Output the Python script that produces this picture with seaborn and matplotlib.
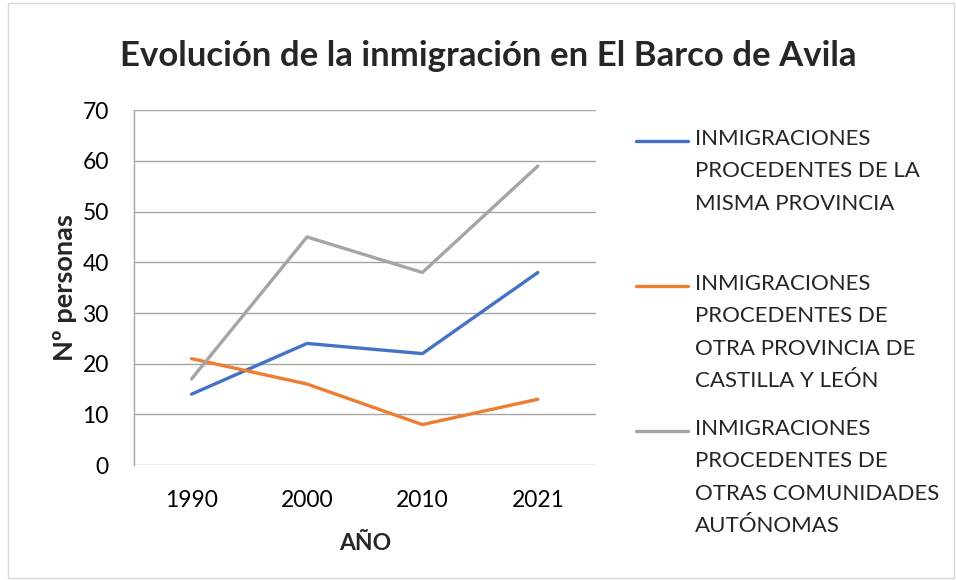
import pandas as pd
import matplotlib
matplotlib.use("Agg")
import matplotlib.pyplot as plt
from matplotlib.lines import Line2D
from matplotlib.patches import Rectangle
import seaborn as sns

# datos
years = ["1990", "2000", "2010", "2021"]
misma_provincia = [14, 24, 22, 38]
otra_provincia_cyl = [21, 16, 8, 13]
otras_comunidades = [17, 45, 38, 59]

series_names = [
    "INMIGRACIONES\nPROCEDENTES DE LA\nMISMA PROVINCIA",
    "INMIGRACIONES\nPROCEDENTES DE\nOTRA PROVINCIA DE\nCASTILLA Y LEÓN",
    "INMIGRACIONES\nPROCEDENTES DE\nOTRAS COMUNIDADES\nAUTÓNOMAS",
]
colors = ["#4472C4", "#ED7D31", "#A5A5A5"]

df = pd.DataFrame({
    "year": years * 3,
    "value": misma_provincia + otra_provincia_cyl + otras_comunidades,
    "serie": [s for s in series_names for _ in years],
})

sns.set_theme(style="white")
plt.rcParams["font.family"] = ["Lato", "DejaVu Sans"]

fig = plt.figure(figsize=(9.56, 5.8), dpi=100)
ax = fig.add_axes([0.140, 0.198, 0.483, 0.612])

sns.lineplot(data=df, x="year", y="value", hue="serie", palette=colors,
             linewidth=2.4, ax=ax, legend=False, sort=False)

ax.set_xlim(-0.5, 3.5)
ax.set_ylim(0, 70)
ax.set_yticks(range(0, 71, 10))
ax.yaxis.grid(True, color="#A6A6A6", linewidth=1.0)
ax.set_axisbelow(True)
for s in ["top", "right", "bottom"]:
    ax.spines[s].set_visible(False)
ax.spines["left"].set_color("#A6A6A6")
ax.spines["left"].set_linewidth(1.0)
ax.tick_params(axis="both", labelsize=16.5, length=0, colors="#000000")
ax.tick_params(axis="y", pad=18)
ax.tick_params(axis="x", pad=18)

ax.set_xlabel("AÑO", fontsize=16.5, fontweight="bold", labelpad=16)
ax.set_ylabel("Nº personas", fontsize=19.5, fontweight="bold", labelpad=4)

fig.text(0.511, 0.903, "Evolución de la inmigración en El Barco de Avila",
         ha="center", va="center", fontsize=25, fontweight="bold")

# leyenda a mano, con la linea junto a la primera linea del texto
legend_tops = [141, 286, 431]
for name, col, ytop in zip(series_names, colors, legend_tops):
    yf = 1 - ytop / 580
    fig.add_artist(Line2D([636 / 956, 688 / 956], [yf, yf], color=col,
                          linewidth=2.4, transform=fig.transFigure))
    fig.text(695 / 956, yf + 12 / 580, name, ha="left", va="top",
             fontsize=16, linespacing=1.77)

fig.add_artist(Rectangle((0.008, 0.004), 0.99, 0.99, transform=fig.transFigure,
                         fill=False, edgecolor="#D9D9D9", linewidth=1))

fig.savefig("out.png", dpi=100)
